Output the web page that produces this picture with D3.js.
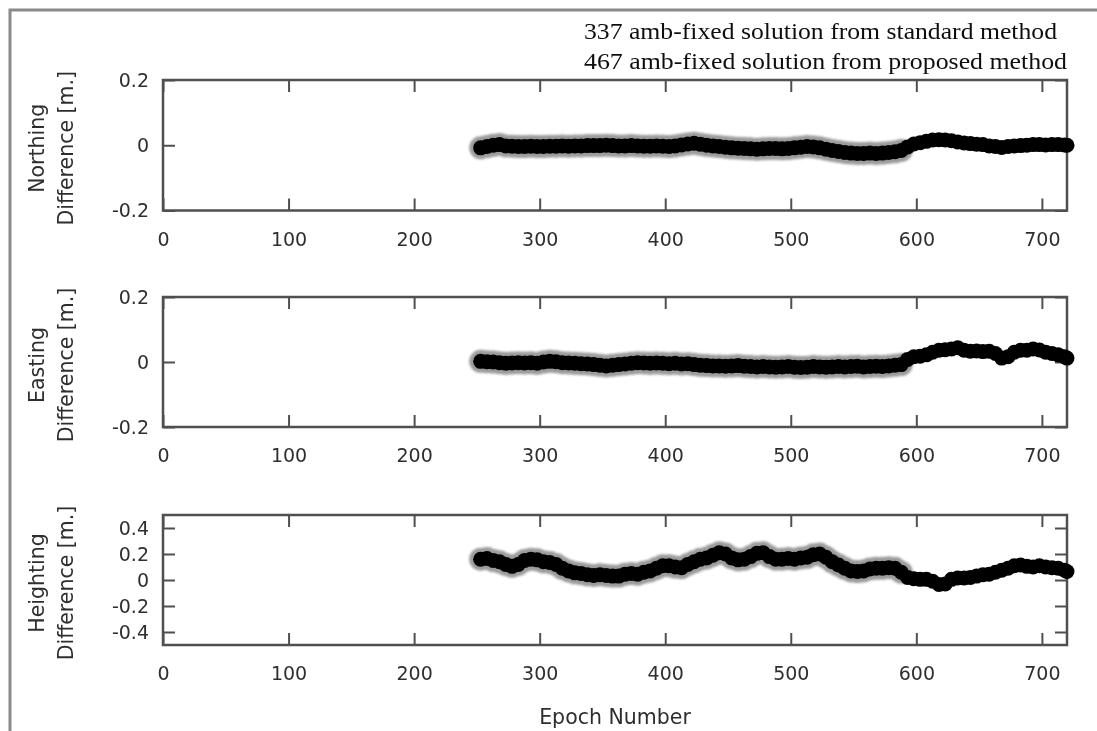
<!DOCTYPE html>
<html><head><meta charset="utf-8">
<script src="https://cdn.jsdelivr.net/npm/d3@7"></script>
<style>body{margin:0;background:#fff}svg{display:block}</style>
</head><body>
<svg id="c" width="1097" height="731"></svg>
<script>
// ---- data ----
const epochs = [253,258,263,268,273,278,283,288,293,298,303,308,313,318,323,328,333,338,343,348,353,358,363,368,373,378,383,388,393,398,403,408,413,418,423,428,433,438,443,448,453,458,463,468,473,478,483,488,493,498,503,508,513,518,523,528,533,538,543,548,553,558,563,568,573,578,583,588,593,598,603,608,613,618,623,628,633,638,643,648,653,658,663,668,673,678,683,688,693,698,703,708,713,718,720];
const northing = [-0.008,-0.004,0.000,0.002,-0.002,-0.003,-0.004,-0.004,-0.003,-0.004,-0.004,-0.003,-0.003,-0.002,-0.003,-0.002,-0.002,-0.001,-0.001,-0.001,0.000,-0.001,-0.002,-0.002,-0.001,-0.002,-0.003,-0.003,-0.002,-0.003,-0.004,-0.002,0.001,0.004,0.006,0.003,0.000,-0.002,-0.004,-0.006,-0.008,-0.009,-0.010,-0.011,-0.012,-0.011,-0.010,-0.010,-0.011,-0.010,-0.008,-0.006,-0.004,-0.005,-0.008,-0.012,-0.016,-0.019,-0.022,-0.024,-0.025,-0.025,-0.024,-0.025,-0.024,-0.022,-0.020,-0.016,-0.005,0.004,0.008,0.012,0.016,0.017,0.016,0.014,0.010,0.007,0.005,0.003,0.002,-0.002,-0.004,-0.007,-0.004,-0.002,-0.001,0.000,0.002,0.002,0.001,0.002,0.002,0.001,0.000];
const easting = [0.002,0.001,0.000,-0.002,-0.004,-0.003,-0.002,-0.003,-0.002,-0.004,0.000,0.002,0.001,-0.002,-0.003,-0.004,-0.005,-0.006,-0.008,-0.010,-0.012,-0.010,-0.008,-0.006,-0.004,-0.002,-0.003,-0.004,-0.003,-0.004,-0.005,-0.004,-0.006,-0.005,-0.008,-0.010,-0.011,-0.012,-0.012,-0.013,-0.012,-0.011,-0.013,-0.014,-0.015,-0.014,-0.015,-0.016,-0.015,-0.014,-0.016,-0.017,-0.016,-0.014,-0.015,-0.016,-0.015,-0.014,-0.015,-0.014,-0.013,-0.015,-0.014,-0.013,-0.014,-0.012,-0.010,-0.008,0.008,0.016,0.018,0.022,0.030,0.036,0.038,0.040,0.044,0.036,0.033,0.034,0.032,0.033,0.026,0.012,0.016,0.030,0.036,0.036,0.040,0.037,0.030,0.026,0.022,0.016,0.012];
const heighting = [0.160,0.165,0.150,0.140,0.120,0.105,0.120,0.150,0.160,0.155,0.140,0.135,0.120,0.090,0.070,0.055,0.050,0.040,0.035,0.040,0.035,0.030,0.030,0.045,0.050,0.045,0.060,0.070,0.090,0.110,0.110,0.100,0.095,0.120,0.140,0.160,0.170,0.190,0.210,0.200,0.170,0.155,0.160,0.180,0.205,0.210,0.180,0.160,0.160,0.165,0.160,0.170,0.175,0.195,0.200,0.175,0.140,0.115,0.090,0.070,0.065,0.070,0.085,0.090,0.090,0.095,0.090,0.060,0.020,0.010,0.005,0.005,-0.010,-0.035,-0.030,0.005,0.015,0.015,0.020,0.030,0.040,0.045,0.060,0.075,0.090,0.110,0.115,0.105,0.100,0.110,0.100,0.095,0.090,0.075,0.065];
const standardEpochRange = [253, 589];   // epochs with a standard-method fixed solution
const xTicks = [0,100,200,300,400,500,600,700];
const smallYTicks = [-0.2,0,0.2];
const heightYTicks = [-0.4,-0.2,0,0.2,0.4];
const legendLines = ["337 amb-fixed solution from standard method","467 amb-fixed solution from proposed method"];
const panelTitles = [["Northing","Difference [m.]"],["Easting","Difference [m.]"],["Heighting","Difference [m.]"]];
const xTitle = "Epoch Number";

// ---- layout ----
const svg = d3.select("#c");
const defs = svg.append("defs");
defs.append("filter").attr("id","soft").attr("x","-5%").attr("y","-20%").attr("width","110%").attr("height","140%")
  .append("feGaussianBlur").attr("stdDeviation",1.1);
defs.append("filter").attr("id","softer").attr("x","-5%").attr("y","-20%").attr("width","110%").attr("height","140%")
  .append("feGaussianBlur").attr("stdDeviation",0.45);

const root = svg.append("g").attr("filter","url(#softer)");
const L = 163, R = 1067;
const panels = [
  {top:80,  bottom:210.5, domain:[-0.2,0.2], ticks:smallYTicks, values:northing, title:panelTitles[0]},
  {top:297, bottom:427,   domain:[-0.2,0.2], ticks:smallYTicks, values:easting,  title:panelTitles[1]},
  {top:515, bottom:645,   domain:[-0.5,0.5], ticks:heightYTicks, values:heighting, title:panelTitles[2]}
];
const x = d3.scaleLinear().domain([0,720]).range([L,R]);
const axisColor = "#505050";
const textColor = "#2e2e2e";
const sans = "'DejaVu Sans',Verdana,sans-serif";
const fmt = v => (Math.abs(v) < 1e-9 ? "0" : String(v));

// outer frame
root.append("path").attr("d","M10,731 L10,10 L1097,10")
  .attr("fill","none").attr("stroke","#8a8a8a").attr("stroke-width",3);

// legend text
legendLines.forEach((t,i)=>{
  root.append("text").attr("x",584).attr("y",[39,69][i])
    .attr("font-family","'Liberation Serif','Times New Roman',serif")
    .attr("font-size",23.5).attr("fill","#111")
    .attr("textLength",[473,483][i]).attr("lengthAdjust","spacingAndGlyphs")
    .text(t);
});

panels.forEach(p=>{
  const y = d3.scaleLinear().domain(p.domain).range([p.bottom,p.top]);
  const g = root.append("g");
  const styleAxis = sel => {
    sel.select(".domain").remove();
    sel.selectAll(".tick line").attr("stroke",axisColor).attr("stroke-width",2);
    sel.selectAll(".tick text").attr("fill",textColor)
      .attr("font-family",sans).attr("font-size",19);
  };
  g.append("g").attr("transform",`translate(0,${p.bottom})`)
    .call(d3.axisBottom(x).tickValues(xTicks).tickSize(-12).tickPadding(22).tickFormat(d3.format("d")))
    .call(styleAxis);
  g.append("g").attr("transform",`translate(0,${p.top})`)
    .call(d3.axisTop(x).tickValues(xTicks).tickSize(-12).tickFormat(""))
    .call(styleAxis);
  g.append("g").attr("transform",`translate(${L},0)`)
    .call(d3.axisLeft(y).tickValues(p.ticks).tickSize(-12).tickPadding(14).tickFormat(fmt))
    .call(styleAxis);
  g.append("g").attr("transform",`translate(${R},0)`)
    .call(d3.axisRight(y).tickValues(p.ticks).tickSize(-12).tickFormat(""))
    .call(styleAxis);
  g.append("rect").attr("x",L).attr("y",p.top).attr("width",R-L).attr("height",p.bottom-p.top)
    .attr("fill","none").attr("stroke",axisColor).attr("stroke-width",2.5);

  // y titles
  const cy = (p.top+p.bottom)/2 + 3;
  p.title.forEach((t,i)=>{
    g.append("text").attr("transform",`translate(${[44,73][i]},${cy}) rotate(-90)`)
      .attr("text-anchor","middle").attr("fill",textColor)
      .attr("font-family",sans).attr("font-size",20.5)
      .text(t);
  });

  const pts = epochs.map((e,i)=>({e, v:p.values[i]}));
  const std = pts.filter(d=>d.e>=standardEpochRange[0] && d.e<=standardEpochRange[1]);
  g.append("g").attr("filter","url(#soft)").selectAll("circle").data(std).join("circle")
    .attr("cx",d=>x(d.e)).attr("cy",d=>y(d.v)).attr("r",11.5).attr("fill","#9c9c9c");
  g.append("g").selectAll("circle").data(pts).join("circle")
    .attr("cx",d=>x(d.e)).attr("cy",d=>y(d.v)).attr("r",7.5).attr("fill","#000");
});

root.append("text").attr("x",(L+R)/2).attr("y",724).attr("text-anchor","middle")
  .attr("fill",textColor).attr("font-family",sans).attr("font-size",20.5)
  .text(xTitle);
</script>
</body></html>
